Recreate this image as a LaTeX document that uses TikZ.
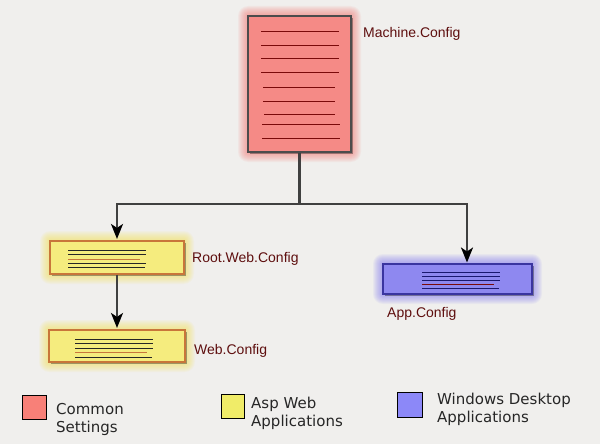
\documentclass[tikz,border=0pt]{standalone}
\usepackage{fontspec}
\setmainfont{Liberation Sans}
\newfontfamily\legfont{DejaVu Sans}
\usetikzlibrary{arrows.meta}
\definecolor{bg}{HTML}{F0EFED}
\definecolor{redfill}{HTML}{F58A86}
\definecolor{redglow}{HTML}{F26F6A}
\definecolor{redline}{HTML}{7A0A0A}
\definecolor{yelfill}{HTML}{F5EC7E}
\definecolor{yelglow}{HTML}{F2E24A}
\definecolor{yeldraw}{HTML}{C8763A}
\definecolor{bluefill}{HTML}{8E88F0}
\definecolor{blueglow}{HTML}{7A70F0}
\definecolor{bluedraw}{HTML}{3A35A0}
\definecolor{blueline}{HTML}{1A1870}
\definecolor{lblcol}{HTML}{5E0E0E}
\definecolor{legred}{HTML}{F88078}
\definecolor{legyel}{HTML}{F0EC68}
\definecolor{legblue}{HTML}{8C88F8}
\tikzset{
  doc/.style={inner sep=0pt, line width=1.1pt},
  lbl/.style={anchor=west, inner sep=0pt, text=lblcol, font=\fontsize{14}{16}\selectfont},
  legtext/.style={anchor=west, inner sep=0pt, align=left, text=black!85, font=\legfont\fontsize{15}{18}\selectfont},
  legbox/.style={draw=black, line width=0.9pt},
  conn/.style={draw=black!75, line width=2.2pt},
  arr/.style={conn, -{Stealth[length=15pt,width=12pt,inset=4pt,color=black]}, shorten >=1.5pt},
}
\newcommand{\glowbox}[5]{%
  \foreach \i in {1,...,10}{\fill[#5, opacity=0.07, rounded corners=\i pt] (#1-\i,#2-\i) rectangle (#3+\i,#4+\i);}
  \fill[black, opacity=0.35] (#1+2,#2+2) rectangle (#3+2,#4+2);}
\begin{document}
\begin{tikzpicture}[x=1pt,y=-1pt]
\useasboundingbox (0,0) rectangle (600,444);
\fill[bg] (0,0) rectangle (600,444);

% Machine.Config
\glowbox{248}{16}{351}{152}{redglow}
\node[doc, draw=black!70, fill=redfill, minimum width=103pt, minimum height=136pt] (mc) at (299.5,84) {};
\foreach \y/\a/\b in {32/261/339, 46/261/339, 59/261/339, 73/261/339, 88/263/335, 101/263/335, 114/264/335, 124/262/340, 138/262/340}
  \draw[redline, line width=1pt] (\a,\y) -- (\b,\y);
\node[lbl] (mcl) at (363,34) {Machine.Config};

% Root.Web.Config
\glowbox{50}{241}{184}{274}{yelglow}
\node[doc, draw=yeldraw, fill=yelfill, minimum width=134pt, minimum height=33pt] (rw) at (117,257.5) {};
\draw[black!85, line width=0.9pt] (68,250) -- (146,250);
\draw[black!85, line width=0.9pt] (68,254.5) -- (146,254.5);
\draw[yeldraw, line width=0.9pt] (68,259) -- (140,259);
\draw[black!85, line width=0.9pt] (68,263) -- (146,263);
\draw[black!85, line width=0.9pt] (68,267) -- (145,267);
\node[lbl] (rwl) at (192,259) {Root.Web.Config};

% Web.Config
\glowbox{49}{330}{185}{362}{yelglow}
\node[doc, draw=yeldraw, fill=yelfill, minimum width=136pt, minimum height=32pt] (wc) at (117,346) {};
\draw[black!85, line width=0.9pt] (75,339) -- (153,339);
\draw[black!85, line width=0.9pt] (75,343) -- (153,343);
\draw[black!85, line width=0.9pt] (75,348) -- (153,348);
\draw[yeldraw, line width=0.9pt] (75,352) -- (147,352);
\draw[black!85, line width=0.9pt] (75,357) -- (152,357);
\node[lbl] (wcl) at (194,351) {Web.Config};

% App.Config
\glowbox{383}{264}{532}{294}{blueglow}
\node[doc, draw=bluedraw, fill=bluefill, minimum width=149pt, minimum height=30pt] (ac) at (457.5,279) {};
\draw[blueline, line width=0.9pt] (422,272) -- (500,272);
\draw[blueline, line width=0.9pt] (422,276) -- (500,276);
\draw[blueline, line width=0.9pt] (422,280) -- (500,280);
\draw[redline, line width=0.9pt] (422,284) -- (494,284);
\draw[blueline, line width=0.9pt] (422,288) -- (499,288);
\node[lbl] (acl) at (387,314) {App.Config};

% connectors
\coordinate (jy) at (0,204);
\coordinate (acin) at (467,264);
\draw[conn] (mc.south) -- (mc.south |- jy) coordinate (j);
\draw[arr] (j) -| (rw.north);
\draw[arr] (j) -| (acin);
\draw[arr] (rw.south) -- (wc.north);

% legend
\node[legbox, fill=legred, minimum width=24pt, minimum height=24pt, inner sep=0] (lr) at (34,407) {};
\node[legtext] (lrt) at (56,419) {Common\\Settings};
\node[legbox, fill=legyel, minimum width=23pt, minimum height=24pt, inner sep=0] (ly) at (232.5,406) {};
\node[legtext] (lyt) at (251,413) {Asp Web\\Applications};
\node[legbox, fill=legblue, minimum width=25pt, minimum height=25pt, inner sep=0] (lb) at (409.5,404.5) {};
\node[legtext] (lbt) at (437,409.5) {Windows Desktop\\Applications};
\end{tikzpicture}
\end{document}
